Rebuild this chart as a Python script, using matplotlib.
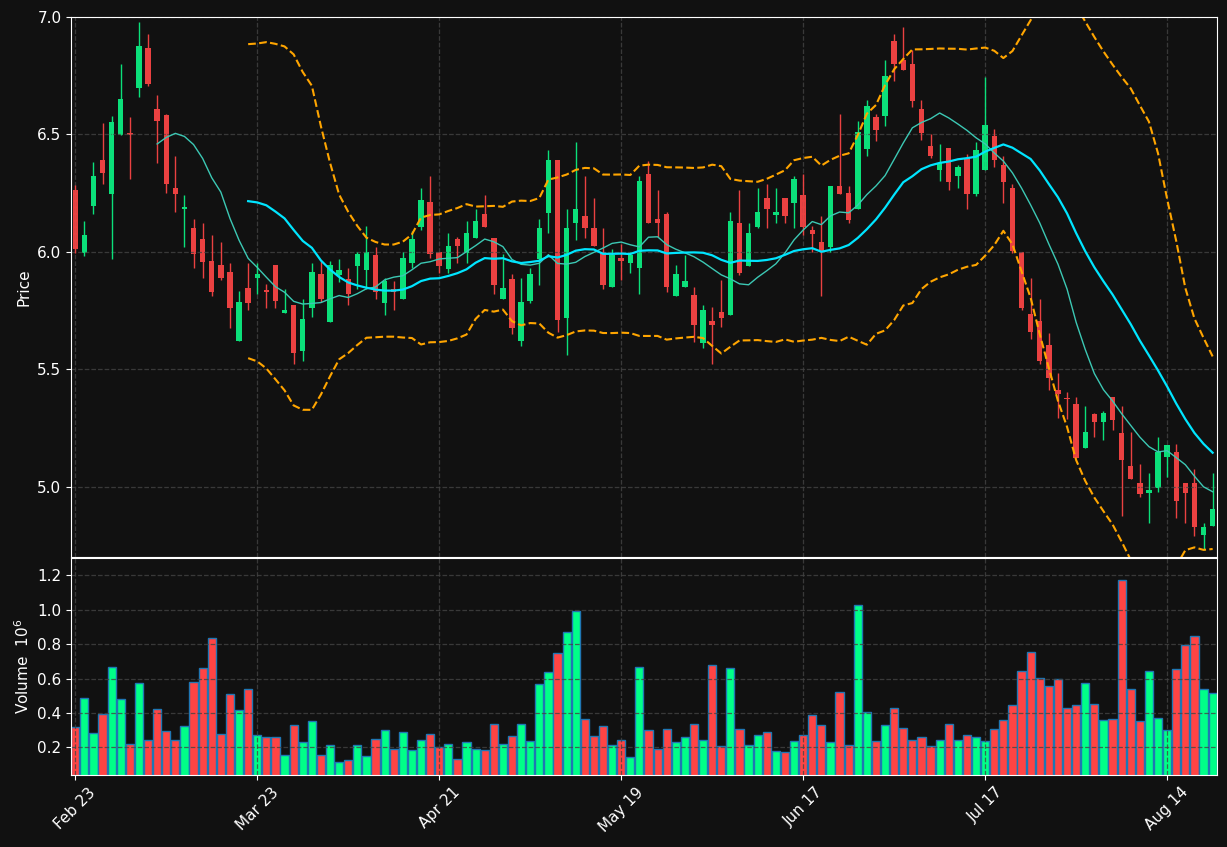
import numpy as np
import pandas as pd
import matplotlib
matplotlib.use("Agg")
import matplotlib.pyplot as plt

# OHLC (one row per trading day)
opens = [6.265, 5.997, 6.197, 6.391, 6.247, 6.497, 6.501, 6.697, 6.869, 6.610,
         6.581, 6.272, 6.181, 6.103, 6.053, 5.963, 5.943, 5.913, 5.622, 5.846,
         5.887, 5.832, 5.943, 5.740, 5.774, 5.578, 5.762, 5.904, 5.703, 5.901,
         5.884, 5.940, 5.921, 5.985, 5.784, 5.843, 5.799, 5.953, 6.107, 6.213,
         6.000, 5.929, 6.053, 5.997, 6.059, 6.162, 6.060, 5.799, 5.884, 5.622,
         5.790, 5.968, 6.166, 6.391, 5.718, 6.122, 6.154, 6.103, 6.000, 5.850,
         5.972, 5.953, 5.931, 6.332, 6.141, 6.162, 5.813, 5.850, 5.816, 5.612,
         5.706, 5.744, 5.732, 6.125, 5.938, 6.107, 6.229, 6.159, 6.229, 6.210,
         6.243, 6.093, 6.044, 6.019, 6.281, 6.251, 6.181, 6.438, 6.574, 6.578,
         6.899, 6.818, 6.801, 6.610, 6.450, 6.350, 6.441, 6.321, 6.401, 6.247,
         6.350, 6.493, 6.369, 6.272, 6.000, 5.735, 5.706, 5.604, 5.413, 5.376,
         5.354, 5.166, 5.309, 5.276, 5.384, 5.228, 5.088, 5.016, 4.975, 4.997,
         5.125, 5.147, 5.016, 5.016, 4.797, 4.835]
closes = [6.012, 6.074, 6.324, 6.335, 6.551, 6.649, 6.499, 6.878, 6.716, 6.556,
          6.290, 6.247, 6.193, 5.990, 5.959, 5.828, 5.887, 5.762, 5.785, 5.784,
          5.904, 5.830, 5.790, 5.754, 5.571, 5.713, 5.913, 5.799, 5.943, 5.925,
          5.821, 5.993, 6.000, 5.828, 5.875, 5.828, 5.972, 6.053, 6.222, 5.990,
          5.938, 6.024, 6.026, 6.082, 6.132, 6.107, 5.857, 5.846, 5.674, 5.785,
          5.904, 6.103, 6.391, 5.710, 6.103, 6.184, 6.100, 6.026, 5.857, 5.985,
          5.960, 5.987, 6.301, 6.122, 6.122, 5.850, 5.904, 5.875, 5.688, 5.754,
          5.688, 5.718, 6.132, 5.909, 6.082, 6.171, 6.181, 6.171, 6.151, 6.310,
          6.107, 6.078, 6.000, 6.281, 6.247, 6.137, 6.509, 6.619, 6.519, 6.750,
          6.799, 6.776, 6.644, 6.507, 6.409, 6.379, 6.299, 6.362, 6.247, 6.434,
          6.540, 6.390, 6.299, 6.004, 5.762, 5.659, 5.534, 5.463, 5.394, 5.374,
          5.122, 5.235, 5.276, 5.316, 5.284, 5.115, 5.034, 4.968, 4.987, 5.149,
          5.176, 4.938, 4.975, 4.828, 4.831, 4.906]
highs = [6.284, 6.131, 6.381, 6.550, 6.578, 6.800, 6.572, 6.978, 6.928, 6.669,
         6.585, 6.410, 6.241, 6.140, 6.125, 6.074, 6.043, 5.953, 5.832, 5.953,
         5.953, 5.862, 5.943, 5.843, 5.774, 5.801, 5.953, 5.960, 5.960, 5.971,
         5.931, 6.000, 6.112, 6.022, 5.887, 5.875, 6.000, 6.088, 6.272, 6.324,
         6.000, 6.081, 6.063, 6.131, 6.181, 6.243, 6.060, 5.990, 5.904, 5.890,
         5.931, 6.140, 6.432, 6.391, 6.181, 6.468, 6.322, 6.228, 6.100, 6.012,
         6.034, 6.000, 6.324, 6.387, 6.265, 6.169, 5.943, 5.985, 5.850, 5.772,
         5.765, 5.882, 6.169, 6.262, 6.122, 6.272, 6.291, 6.272, 6.229, 6.324,
         6.332, 6.110, 6.154, 6.281, 6.588, 6.279, 6.559, 6.647, 6.588, 6.816,
         6.928, 6.957, 6.860, 6.647, 6.500, 6.460, 6.441, 6.368, 6.416, 6.468,
         6.743, 6.522, 6.409, 6.291, 6.000, 5.890, 5.801, 5.654, 5.485, 5.404,
         5.382, 5.346, 5.316, 5.324, 5.384, 5.346, 5.235, 5.096, 5.059, 5.213,
         5.176, 5.184, 5.016, 5.074, 4.846, 5.059]
lows = [5.997, 5.982, 6.160, 6.291, 5.971, 6.497, 6.309, 6.659, 6.707, 6.379,
        6.249, 6.169, 6.022, 5.931, 5.887, 5.813, 5.879, 5.674, 5.622, 5.754,
        5.821, 5.762, 5.762, 5.740, 5.522, 5.534, 5.721, 5.787, 5.703, 5.872,
        5.772, 5.843, 5.843, 5.801, 5.732, 5.754, 5.799, 5.931, 6.093, 5.975,
        5.909, 5.909, 5.953, 5.953, 6.059, 6.107, 5.821, 5.799, 5.651, 5.600,
        5.784, 5.860, 6.081, 5.659, 5.563, 6.051, 6.059, 6.026, 5.843, 5.850,
        5.879, 5.909, 5.821, 6.122, 6.063, 5.828, 5.813, 5.850, 5.615, 5.593,
        5.522, 5.681, 5.732, 5.901, 5.938, 6.100, 6.100, 6.122, 6.122, 6.103,
        6.074, 6.000, 5.813, 6.000, 6.247, 6.122, 6.181, 6.409, 6.471, 6.537,
        6.728, 6.776, 6.618, 6.478, 6.401, 6.301, 6.262, 6.272, 6.181, 6.240,
        6.350, 6.360, 6.210, 5.997, 5.754, 5.629, 5.522, 5.412, 5.294, 5.287,
        5.122, 5.166, 5.213, 5.199, 5.243, 4.875, 5.034, 4.957, 4.846, 4.978,
        5.044, 4.868, 4.846, 4.791, 4.732, 4.835]
# volume in millions
volumes = [0.320, 0.490, 0.285, 0.397, 0.668, 0.484, 0.223, 0.575, 0.241, 0.426,
           0.293, 0.246, 0.322, 0.583, 0.664, 0.838, 0.281, 0.513, 0.420, 0.537,
           0.275, 0.258, 0.258, 0.154, 0.333, 0.229, 0.355, 0.154, 0.212, 0.113,
           0.125, 0.212, 0.148, 0.252, 0.299, 0.194, 0.287, 0.183, 0.241, 0.281,
           0.200, 0.223, 0.134, 0.233, 0.192, 0.188, 0.339, 0.223, 0.264, 0.339,
           0.235, 0.566, 0.641, 0.751, 0.873, 0.995, 0.366, 0.264, 0.322, 0.217,
           0.246, 0.146, 0.668, 0.304, 0.194, 0.310, 0.229, 0.258, 0.339, 0.241,
           0.680, 0.206, 0.664, 0.310, 0.212, 0.270, 0.287, 0.177, 0.171, 0.235,
           0.270, 0.391, 0.328, 0.229, 0.525, 0.217, 1.030, 0.407, 0.235, 0.333,
           0.432, 0.316, 0.241, 0.258, 0.206, 0.246, 0.339, 0.241, 0.270, 0.258,
           0.235, 0.310, 0.362, 0.444, 0.647, 0.757, 0.606, 0.560, 0.595, 0.432,
           0.444, 0.577, 0.455, 0.362, 0.368, 1.175, 0.542, 0.351, 0.647, 0.374,
           0.304, 0.658, 0.798, 0.850, 0.537, 0.519]
tick_labels = ["Feb 23", "Mar 23", "Apr 21", "May 19", "Jun 17", "Jul 17", "Aug 14"]

BG = '#111111'
UP, DOWN = '#0be07a', '#ea4141'
VUP, VDOWN = '#00ff88', '#ff4444'

df = pd.DataFrame({'open': opens, 'high': highs, 'low': lows,
                   'close': closes, 'volume': volumes})
x = np.arange(len(df))
up = df['close'] >= df['open']
sma10 = df['close'].rolling(10).mean()
sma20 = df['close'].rolling(20).mean()
std20 = df['close'].rolling(20).std(ddof=0)

fig = plt.figure(figsize=(12.27, 8.47), dpi=100, facecolor=BG)
ax = fig.add_axes([0.058, 0.342, 0.934, 0.638], facecolor=BG)
axv = fig.add_axes([0.058, 0.085, 0.934, 0.256], facecolor=BG, sharex=ax)

# ── candles ──
for i, r in df.iterrows():
    c = UP if up[i] else DOWN
    ax.vlines(i, r['low'], r['high'], color=c, linewidth=1)
    lo = min(r['open'], r['close'])
    h = max(abs(r['close'] - r['open']), 0.006)
    ax.bar(i, h, bottom=lo, width=0.6, color=c, linewidth=0)

ax.plot(x, sma10, color='#3cc8b4', linewidth=1)
ax.plot(x, sma20, color='#00e5ff', linewidth=1.6)
ax.plot(x, sma20 + 2 * std20, color='orange', linestyle='--', linewidth=1.5)
ax.plot(x, sma20 - 2 * std20, color='orange', linestyle='--', linewidth=1.5)

ax.set_ylim(4.70, 7.0)
ax.set_yticks([5.0, 5.5, 6.0, 6.5, 7.0])
ax.set_ylabel('Price', color='white', fontsize=11)

# ── volume ──
axv.bar(x, df['volume'], width=0.9, color=np.where(up, VUP, VDOWN),
        edgecolor='#1f77b4', linewidth=1)
axv.set_ylim(0.04, 1.3)
axv.set_yticks([0.2, 0.4, 0.6, 0.8, 1.0, 1.2])
axv.set_ylabel('Volume  $10^6$', color='white', fontsize=11)

axv.set_xlim(-0.45, len(df) - 0.5)
axv.set_xticks(np.arange(0, len(df), 20))
axv.set_xticklabels(tick_labels, rotation=45)
plt.setp(ax.get_xticklabels(), visible=False)

for a in (ax, axv):
    a.grid(True, color='#444444', linestyle='--', linewidth=0.9, alpha=0.8)
    a.tick_params(colors='white', labelsize=11)
    for s in a.spines.values():
        s.set_color('white')

fig.savefig('out.png', dpi=100, facecolor=BG)
